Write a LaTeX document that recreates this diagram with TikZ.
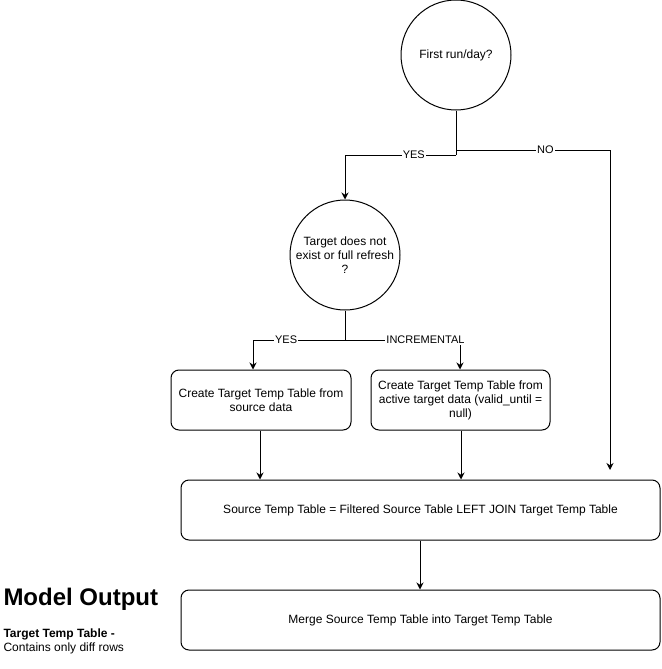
\documentclass[tikz,border=0pt]{standalone}
\usepackage{fontspec}
\setmainfont{Liberation Sans}
\usetikzlibrary{arrows.meta}

\begin{document}
\begin{tikzpicture}[
    x=1pt, y=-1pt,
    line width=1pt,
    >={Stealth[length=7pt,width=7pt]},
    roundnode/.style={circle, draw=black, minimum size=110pt, inner sep=0pt, align=center, font=\fontsize{12}{14}\selectfont},
    squarednode/.style={rectangle, rounded corners=8pt, draw=black, minimum height=60pt, align=center, font=\fontsize{12}{14}\selectfont},
    edgelabel/.style={fill=white, inner sep=1pt, font=\fontsize{11}{13}\selectfont}
  ]
  \useasboundingbox (0,0) rectangle (661,669);

  %Nodes
  \node[roundnode] at (456,55) (A) {First run/day?};
  \node[roundnode] at (345,255) (B) {Target does not\\exist or full refresh\\?};
  \node[squarednode, minimum width=180pt] at (261,400) (C) {Create Target Temp Table from\\source data};
  \node[squarednode, minimum width=179pt] at (460.5,400) (D) {Create Target Temp Table from\\active target data (valid\_until =\\null)};
  \node[squarednode, minimum width=479pt] at (420.5,510) (E) {Source Temp Table = Filtered Source Table LEFT JOIN Target Temp Table};
  \node[squarednode, minimum width=479pt] at (420.5,620) (F) {Merge Source Temp Table into Target Temp Table};

  \coordinate (s1) at (456,155);
  \coordinate (s2) at (345,340);

  %Lines
  \draw (A) -- (s1);
  \draw[->] (s1) -| (B) node[pos=0.19,edgelabel] {YES};
  \draw[->] (456,150) -| (610,470) node[pos=0.29,edgelabel] {NO};
  \draw (B) -- (s2);
  \draw[->] (s2) -| (C.north -| 253,0) node[pos=0.32,edgelabel] {YES};
  \draw[->] (s2) -| (D.north -| 460,0) node[pos=0.35,edgelabel] {INCREMENTAL};
  \draw[->] (C.south -| 260,0) -- (E.north -| 260,0);
  \draw[->] (D.south -| 461,0) -- (E.north -| 461,0);
  \draw[->] (E.south -| 420,0) -- (F.north -| 420,0);

  %Labels
  \node[anchor=base west, inner sep=0pt, font=\fontsize{24}{28}\selectfont\bfseries] at (3,605) (G) {Model Output};
  \node[anchor=base west, inner sep=0pt, font=\fontsize{12}{14}\selectfont\bfseries] at (3,637) (H) {Target Temp Table -};
  \node[anchor=base west, inner sep=0pt, font=\fontsize{12}{14}\selectfont] at (3,651) (I) {Contains only diff rows};

\end{tikzpicture}
\end{document}
